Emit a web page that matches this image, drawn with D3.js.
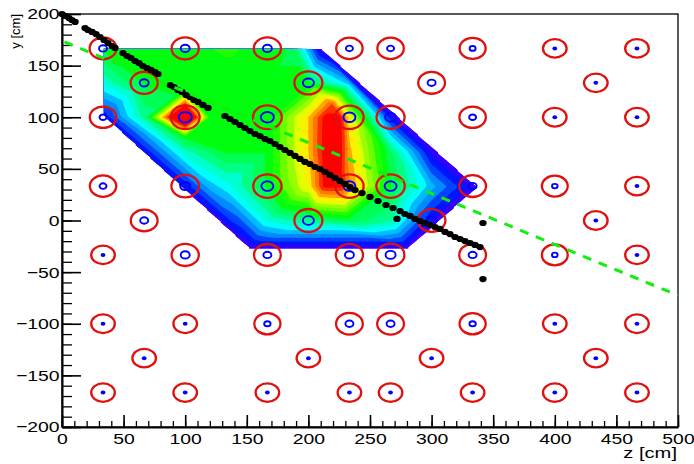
<!DOCTYPE html>
<html>
<head>
<meta charset="utf-8">
<script src="https://cdn.jsdelivr.net/npm/d3@7"></script>
<style>
body { margin: 0; background: #fff; }
text { font-family: "Liberation Sans", Arial, sans-serif; }
</style>
</head>
<body>
<svg id="chart" width="694" height="464"></svg>
<script>
// detector positions (z, y in cm) and hit signal
var detZ = [
  33.3, 100, 166.7, 233.3, 266.7, 333.3, 400, 466.7,
  66.7, 200, 300, 433.3,
  33.3, 100, 166.7, 233.3, 266.7, 333.3, 400, 466.7,
  33.3, 100, 166.7, 233.3, 266.7, 333.3, 400, 466.7,
  66.7, 200, 300, 433.3,
  33.3, 100, 166.7, 233.3, 266.7, 333.3, 400, 466.7,
  33.3, 100, 166.7, 233.3, 266.7, 333.3, 400, 466.7,
  66.7, 200, 300, 433.3,
  33.3, 100, 166.7, 233.3, 266.7, 333.3, 400, 466.7];
var detY = [
  166.7, 166.7, 166.7, 166.7, 166.7, 166.7, 166.7, 166.7,
  133.3, 133.3, 133.3, 133.3,
  100, 100, 100, 100, 100, 100, 100, 100,
  33.3, 33.3, 33.3, 33.3, 33.3, 33.3, 33.3, 33.3,
  0, 0, 0, 0,
  -33.3, -33.3, -33.3, -33.3, -33.3, -33.3, -33.3, -33.3,
  -100, -100, -100, -100, -100, -100, -100, -100,
  -133.3, -133.3, -133.3, -133.3,
  -166.7, -166.7, -166.7, -166.7, -166.7, -166.7, -166.7, -166.7];
var detSignal = [
  40, 45, 45, 35, 35, 30, 0, 0,
  45, 55, 40, 0,
  35, 65, 65, 60, 55, 35, 0, 0,
  35, 50, 60, 60, 60, 40, 28, 0,
  40, 55, 50, 0,
  0, 45, 40, 45, 50, 40, 28, 0,
  0, 0, 32, 40, 40, 32, 0, 0,
  0, 0, 0, 0,
  0, 0, 0, 0, 0, 0, 0, 0];

// reconstructed track points
var trackZ = [0, 2.4, 5.7, 8.1, 10.6,
  18.7, 21.1, 24.4, 27.6, 30.8, 34.1, 37.3, 40.6, 43.0,
  49.5, 52.8, 56.0, 59.3, 62.5, 65.7, 69.0, 72.2, 75.5, 77.9,
  87.7, 90.9, 94.2, 97.4, 100.6, 103.9, 107.1, 110.4, 114.4, 118.5,
  132.3, 136.4, 140.4, 144.5, 148.5, 152.6, 156.7, 160.7, 164.8, 168.8, 172.9, 176.9, 181.0, 185.1,
  189.1, 193.2, 197.2, 201.3, 205.4, 209.4, 213.5, 217.5, 221.6, 225.6, 229.7, 233.8, 237.8,
  243.5, 250.0, 256.5, 263.0, 268.7, 274.4,
  278.4, 282.5, 286.5, 290.6, 294.6, 298.7, 302.8, 306.8, 310.9, 314.9, 319.0, 323.1, 327.1, 331.2, 335.2, 339.3,
  271.9, 341.7, 341.7];
var trackY = [200, 198.1, 196.1, 194.2, 192.3,
  186.4, 184.5, 182.6, 180.6, 177.7, 174.8, 171.9, 169.0, 167.1,
  162.2, 159.3, 157.4, 154.5, 152.5, 149.6, 147.7, 145.8, 143.8, 141.9,
  131.2, 129.3, 126.4, 124.5, 121.5, 119.6, 116.7, 114.8, 111.9, 109.0,
  101.2, 98.3, 95.4, 92.5, 89.6, 86.7, 83.8, 81.8, 78.9, 77.0, 74.1, 71.2, 68.3, 65.4,
  62.5, 59.6, 56.7, 54.7, 51.8, 49.9, 47.0, 44.1, 41.2, 38.3, 35.4, 32.4, 29.5,
  26.6, 22.8, 18.9, 15.0, 12.1, 9.2,
  6.3, 4.4, 1.5, -0.5, -2.4, -4.4, -6.3, -8.2, -11.1, -13.1, -16.0, -17.9, -19.9, -21.8, -23.7, -25.7,
  1.5, -2.4, -56.7];

// fitted line
var fitZ = [2, 500];
var fitY = [173, -72.5];

// map nodes (z, y, value) for the colour contour
var mapZ = [33.3, 211, 337, 281, 152, 33.3,
  66.7, 100, 133, 167, 187, 33.3,
  66.7, 100, 133, 166.7, 200, 233.3,
  66.7, 100, 121, 100, 100, 133, 166.7, 200, 233.3, 266.7,
  213, 226, 219, 213, 226, 213, 226,
  100, 133, 166.7, 200, 233.3, 266.7, 300,
  133, 166.7, 200, 233.3, 266.7, 300,
  166.7, 200, 233.3, 266.7, 300];
var mapY = [166, 166, 32, -27, -27, 102,
  166, 166, 166, 166, 166, 133,
  133.3, 133.3, 133.3, 133.3, 133.3, 133.3,
  100, 100, 100, 127, 80, 100, 100, 100, 100, 100,
  100, 100, 113, 66.7, 66.7, 33.3, 33.3,
  66.7, 66.7, 66.7, 66.7, 66.7, 66.7, 66.7,
  33.3, 33.3, 33.3, 33.3, 33.3, 33.3,
  0, 0, 0, 0, 0];
var mapV = [0.51, 0.06, 0.06, 0.06, 0.06, 0.12,
  0.51, 0.53, 0.56, 0.53, 0.49, 0.36,
  0.51, 0.52, 0.52, 0.51, 0.51, 0.27,
  0.42, 1.3, 0.51, 0.52, 0.51, 0.51, 0.51, 0.8, 0.76, 0.12,
  0.97, 0.97, 0.9, 0.98, 0.98, 0.97, 0.97,
  0.38, 0.51, 0.51, 0.8, 0.82, 0.46, 0.08,
  0.33, 0.51, 0.76, 0.86, 0.51, 0.27,
  0.36, 0.43, 0.48, 0.41, 0.1];

var zTicks = d3.range(0, 501, 50);
var yTicks = d3.range(-200, 201, 50);
var levels = d3.range(0, 1, 0.05);

var svg = d3.select("#chart");
var x = d3.scaleLinear().domain([0, 500]).range([62, 678]);
var y = d3.scaleLinear().domain([-200, 200]).range([427, 14]);

svg.append("clipPath").attr("id", "frame").append("rect")
  .attr("x", x(0)).attr("y", y(200))
  .attr("width", x(500) - x(0)).attr("height", y(-200) - y(200));

// linear interpolation on the Delaunay triangles, 1 cm grid
var pts = mapZ.map(function (z, i) { return [z, mapY[i]]; });
var tri = d3.Delaunay.from(pts).triangles;
var nx = 501, ny = 401;
var grid = new Float64Array(nx * ny).fill(-1);
for (var t = 0; t < tri.length; t += 3) {
  var a = pts[tri[t]], b = pts[tri[t + 1]], c = pts[tri[t + 2]];
  var va = mapV[tri[t]], vb = mapV[tri[t + 1]], vc = mapV[tri[t + 2]];
  var det = (b[1] - c[1]) * (a[0] - c[0]) + (c[0] - b[0]) * (a[1] - c[1]);
  if (Math.abs(det) < 1e-9) continue;
  for (var gz = Math.ceil(Math.min(a[0], b[0], c[0])); gz <= Math.floor(Math.max(a[0], b[0], c[0])); gz++) {
    for (var gy = Math.ceil(Math.min(a[1], b[1], c[1])); gy <= Math.floor(Math.max(a[1], b[1], c[1])); gy++) {
      var l1 = ((b[1] - c[1]) * (gz - c[0]) + (c[0] - b[0]) * (gy - c[1])) / det;
      var l2 = ((c[1] - a[1]) * (gz - c[0]) + (a[0] - c[0]) * (gy - c[1])) / det;
      var l3 = 1 - l1 - l2;
      if (l1 >= -1e-9 && l2 >= -1e-9 && l3 >= -1e-9) grid[(200 - gy) * nx + gz] = l1 * va + l2 * vb + l3 * vc;
    }
  }
}

// ROOT pretty palette, 50 colours violet -> red, 20 levels
function levelColor(k) {
  var idx = Math.floor(0.01 + (k + 0.99) * 50 / levels.length);
  return d3.hsl(280 - (idx + 1) * 5.6, 1, 0.5).formatHex();
}

var gridPath = d3.geoPath(d3.geoTransform({
  point: function (gx, gy) { this.stream.point(x(gx - 0.5), y(200 - (gy - 0.5))); }
}));

svg.append("g").attr("clip-path", "url(#frame)")
  .selectAll("path")
  .data(d3.contours().size([nx, ny]).thresholds(levels)(grid))
  .enter().append("path")
  .attr("d", gridPath)
  .attr("fill", function (d, i) { return levelColor(i); });

// axes, ROOT style ticks inside the frame
var xMinor = svg.append("g").attr("transform", "translate(0," + y(-200) + ")")
  .call(d3.axisBottom(x).tickValues(d3.range(0, 501, 10)).tickSize(-6).tickSizeOuter(0).tickFormat(""));
var xMajor = svg.append("g").attr("transform", "translate(0," + y(-200) + ")")
  .call(d3.axisBottom(x).tickValues(zTicks).tickSize(-12).tickSizeOuter(0).tickPadding(6));
var yMinor = svg.append("g").attr("transform", "translate(" + x(0) + ",0)")
  .call(d3.axisLeft(y).tickValues(d3.range(-200, 201, 10)).tickSize(-10).tickSizeOuter(0).tickFormat(""));
var yMajor = svg.append("g").attr("transform", "translate(" + x(0) + ",0)")
  .call(d3.axisLeft(y).tickValues(yTicks).tickSize(-19).tickSizeOuter(0).tickPadding(2));

[xMinor, yMinor].forEach(function (g) { g.select(".domain").remove(); g.selectAll("line").attr("stroke-width", 1.3); });
[xMajor, yMajor].forEach(function (g) {
  g.select(".domain").attr("stroke-width", 2);
  g.selectAll("line").attr("stroke-width", 1.6);
  g.selectAll("text").attr("font-size", "15.5px").attr("font-family", null).attr("fill", "#000")
    .attr("transform", "scale(1.25,1)");
});

svg.append("rect")
  .attr("x", x(0)).attr("y", y(200))
  .attr("width", x(500) - x(0)).attr("height", y(-200) - y(200))
  .attr("fill", "none").attr("stroke", "#000").attr("stroke-width", 1.3);

// detectors
var redRx = d3.scaleLinear().domain([0, 65]).range([11.8, 14.4]);
var redRy = d3.scaleLinear().domain([0, 65]).range([9.3, 11.9]);
var ringR = d3.scaleLinear().domain([0, 65]).range([0, 6.5]);

svg.append("g").selectAll("ellipse")
  .data(detZ).enter().append("ellipse")
  .attr("cx", function (d) { return x(d); })
  .attr("cy", function (d, i) { return y(detY[i]); })
  .attr("rx", function (d, i) { return redRx(detSignal[i]); })
  .attr("ry", function (d, i) { return redRy(detSignal[i]); })
  .attr("fill", "none").attr("stroke", "#e01010").attr("stroke-width", 2.3);

svg.append("g").selectAll("ellipse")
  .data(detZ).enter().append("ellipse")
  .attr("cx", function (d) { return x(d); })
  .attr("cy", function (d, i) { return y(detY[i]); })
  .attr("rx", function (d, i) { return detSignal[i] > 0 ? ringR(detSignal[i]) : 2.4; })
  .attr("ry", function (d, i) { return detSignal[i] > 0 ? ringR(detSignal[i]) * 0.8 : 2; })
  .attr("fill", function (d, i) { return detSignal[i] > 0 ? "none" : "#0000ff"; })
  .attr("stroke", "#0000ff")
  .attr("stroke-width", function (d, i) { return detSignal[i] > 0 ? 1.9 : 0; });

// track points
svg.append("g").selectAll("ellipse")
  .data(trackZ).enter().append("ellipse")
  .attr("cx", function (d) { return x(d); })
  .attr("cy", function (d, i) { return y(trackY[i]); })
  .attr("rx", 3.7).attr("ry", 3.1)
  .attr("fill", "#000");

// fitted line
svg.append("path").attr("clip-path", "url(#frame)")
  .datum(fitZ)
  .attr("d", d3.line().x(function (d) { return x(d); }).y(function (d, i) { return y(fitY[i]); }))
  .attr("fill", "none").attr("stroke", "#11ee11").attr("stroke-width", 3)
  .attr("stroke-dasharray", "9,8");

// titles
svg.append("text").attr("transform", "translate(677,458) scale(1.3,1)")
  .attr("text-anchor", "end").attr("font-size", "15.5px").text("z [cm]");
svg.append("text").attr("transform", "translate(20,14) rotate(-90)")
  .attr("text-anchor", "end").attr("font-size", "13px").text("y [cm]");
</script>
</body>
</html>
